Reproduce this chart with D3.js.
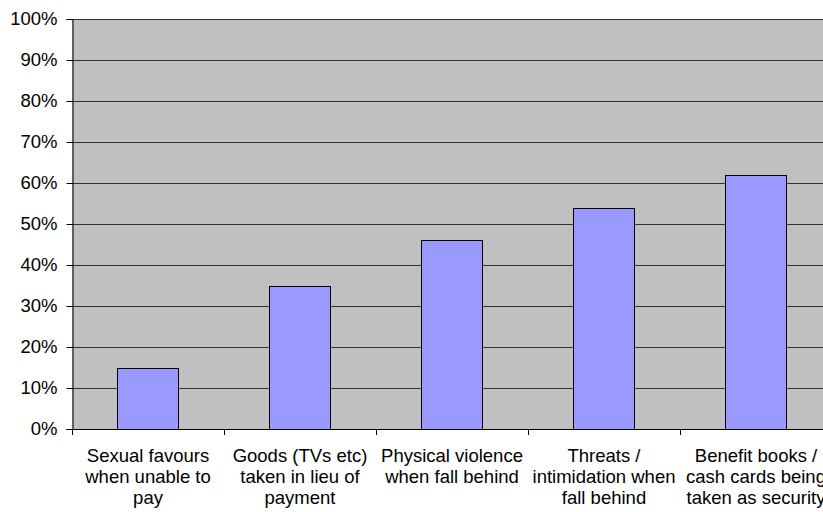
<!DOCTYPE html>
<html>
<head>
<meta charset="utf-8">
<script src="https://cdn.jsdelivr.net/npm/d3@7"></script>
<style>
body { margin: 0; background: #fff; }
text { font-family: "Liberation Sans", Arial, sans-serif; }
</style>
</head>
<body>
<div id="chart"></div>
<script>
var categories = ["Sexual favours", "Goods", "Physical violence", "Threats", "Benefit books"];
var labelLines = [
  ["Sexual favours", "when unable to", "pay"],
  ["Goods (TVs etc)", "taken in lieu of", "payment"],
  ["Physical violence", "when fall behind"],
  ["Threats /", "intimidation when", "fall behind"],
  ["Benefit books /", "cash cards being", "taken as security"]
];
var values = [15, 35, 46, 54, 62];
var yTicks = [0, 10, 20, 30, 40, 50, 60, 70, 80, 90, 100];

var W = 823, H = 512;
var margin = {top: 19, left: 72, bottom: 83};
var plotW = 760, plotH = H - margin.top - margin.bottom;

var svg = d3.select("#chart").append("svg").attr("width", W).attr("height", H);
var g = svg.append("g").attr("transform", "translate(" + margin.left + "," + margin.top + ")");

var x = d3.scaleBand().domain(categories).range([0, plotW]).paddingInner(0.6).paddingOuter(0.3);
var y = d3.scaleLinear().domain([0, 100]).range([plotH, 0]);

// plot background
g.append("rect").attr("x", 0).attr("y", 0).attr("width", plotW).attr("height", plotH).attr("fill", "#c0c0c0");

// gridlines
g.selectAll(".grid").data(yTicks.slice(1)).enter().append("line")
  .attr("x1", 0).attr("x2", plotW)
  .attr("y1", function(d) { return Math.round(y(d)) + 0.5; })
  .attr("y2", function(d) { return Math.round(y(d)) + 0.5; })
  .attr("stroke", "#333").attr("stroke-width", 1);

// bars
g.selectAll(".bar").data(values).enter().append("rect")
  .attr("x", function(d, i) { return Math.round(x(categories[i])) - 0.5; })
  .attr("y", function(d) { return Math.round(y(d)) + 0.5; })
  .attr("width", Math.round(x.bandwidth()))
  .attr("height", function(d) { return Math.round(y(0)) - Math.round(y(d)); })
  .attr("fill", "#9999ff").attr("stroke", "#000").attr("stroke-width", 1);

// y axis
var yAxis = g.append("g").attr("transform", "translate(0.5,0)")
  .call(d3.axisLeft(y).tickValues(yTicks).tickFormat(function(d) { return d + "%"; }).tickSize(6).tickPadding(9));
yAxis.select(".domain").attr("stroke", "#000");
yAxis.selectAll(".tick line").attr("stroke", "#000");
yAxis.selectAll("text").attr("fill", "#000").style("font-size", "18.5px");

// x axis: ticks at category boundaries
var bounds = d3.range(categories.length + 1).map(function(i) { return i * plotW / categories.length; });
g.append("line").attr("x1", 0).attr("x2", plotW).attr("y1", plotH + 0.5).attr("y2", plotH + 0.5).attr("stroke", "#000");
g.selectAll(".xtick").data(bounds).enter().append("line")
  .attr("x1", function(d) { return Math.round(d) + 0.5; })
  .attr("x2", function(d) { return Math.round(d) + 0.5; })
  .attr("y1", plotH).attr("y2", plotH + 6).attr("stroke", "#000");

// category labels
var lab = g.selectAll(".xlabel").data(labelLines).enter().append("text")
  .attr("text-anchor", "middle").attr("fill", "#000").style("font-size", "18.5px")
  .attr("transform", function(d, i) { return "translate(" + (x(categories[i]) + x.bandwidth() / 2) + "," + (plotH + 33) + ")"; });
lab.selectAll("tspan").data(function(d) { return d; }).enter().append("tspan")
  .attr("x", 0).attr("y", function(d, j) { return j * 21; }).text(function(d) { return d; });
</script>
</body>
</html>
